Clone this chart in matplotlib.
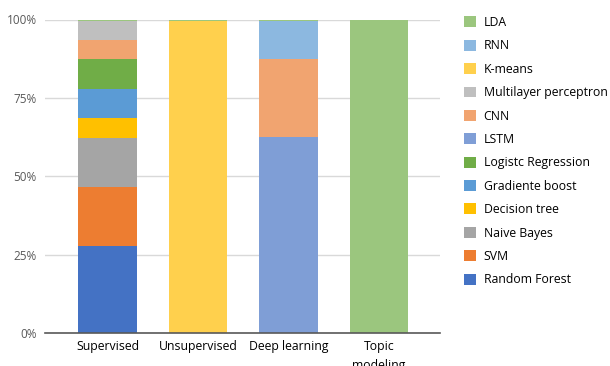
import matplotlib.pyplot as plt
import numpy as np
from matplotlib.patches import Patch

# categories and stacked shares (percent), bottom series first
categories = ["Supervised", "Unsupervised", "Deep learning", "Topic\nmodeling"]
series_names = [
    "Random Forest", "SVM", "Naive Bayes", "Decision tree", "Gradiente boost",
    "Logistc Regression", "LSTM", "CNN", "Multilayer perceptron", "K-means",
    "RNN", "LDA",
]
random_forest = [27.8, 0, 0, 0]
svm = [18.7, 0, 0, 0]
naive_bayes = [15.8, 0, 0, 0]
decision_tree = [6.3, 0, 0, 0]
gradiente_boost = [9.2, 0, 0, 0]
logistc_regression = [9.6, 0, 0, 0]
lstm = [0, 0, 62.4, 0]
cnn = [6.1, 0, 24.9, 0]
multilayer_perceptron = [6.1, 0, 0, 0]
k_means = [0, 99.6, 0, 0]
rnn = [0, 0, 12.3, 0]
lda = [0.4, 0.4, 0.4, 100]

colors = ["#4472C4", "#ED7D31", "#A5A5A5", "#FFC000", "#5B9BD5", "#70AD47",
          "#7F9ED6", "#F1A470", "#BFBFBF", "#FFD04D", "#8CB8E0", "#9BC67E"]

values = [random_forest, svm, naive_bayes, decision_tree, gradiente_boost,
          logistc_regression, lstm, cnn, multilayer_perceptron, k_means, rnn, lda]

plt.rcParams["font.family"] = ["Open Sans", "DejaVu Sans"]

fig = plt.figure(figsize=(6.1, 3.66), dpi=100)
ax = fig.add_axes([45 / 610, 1 - 333 / 366, 395 / 610, (333 - 19.5) / 366])

x = np.arange(len(categories))
bottom = np.zeros(len(categories))
for name, vals, col in zip(series_names, values, colors):
    vals = np.array(vals, dtype=float)
    ax.bar(x, vals, width=0.65, bottom=bottom, color=col, label=name, zorder=3)
    bottom += vals

ax.set_xlim(-0.69, 3.675)
ax.set_ylim(0, 100)
ax.set_yticks([0, 25, 50, 75, 100])
ax.set_yticklabels(["0%", "25%", "50%", "75%", "100%"])
ax.set_xticks(x)
ax.set_xticklabels(categories, linespacing=1.65)
ax.tick_params(axis="y", length=0, labelsize=8.5, colors="#595959", pad=6)
ax.tick_params(axis="x", length=0, labelsize=8.8, colors="black", pad=5)
ax.grid(axis="y", color="#D9D9D9", linewidth=1, zorder=0)
for side in ["top", "right", "left"]:
    ax.spines[side].set_visible(False)
ax.spines["bottom"].set_color("#595959")
ax.spines["bottom"].set_linewidth(1.2)
ax.spines["bottom"].set_zorder(4)

handles = [Patch(facecolor=c, edgecolor="none") for c in colors][::-1]
fig.legend(handles, series_names[::-1], loc="upper left",
           bbox_to_anchor=(453 / 610, 1 - 5 / 366), frameon=False,
           fontsize=8.8, handlelength=1.0, handleheight=1.0, handletextpad=0.6,
           labelspacing=0.85)

fig.savefig("out.png", dpi=100)
